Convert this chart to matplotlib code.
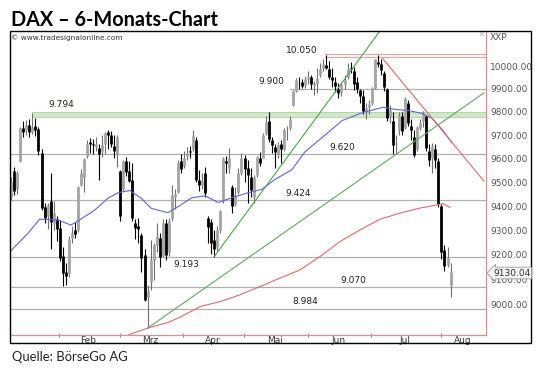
import numpy as np
import pandas as pd
import matplotlib
matplotlib.use('Agg')
import matplotlib.pyplot as plt
from matplotlib.patches import Rectangle
from matplotlib.ticker import FixedLocator, NullFormatter, NullLocator

# DAX daily bars (open, high, low, close)
jan = [(9440, 9520, 9425, 9500), (9545, 9565, 9445, 9465), (9470, 9545, 9450, 9540),
       (9590, 9735, 9585, 9730), (9730, 9760, 9690, 9715), (9720, 9765, 9700, 9745),
       (9745, 9770, 9690, 9712), (9715, 9794, 9705, 9735), (9740, 9772, 9695, 9722),
       (9725, 9735, 9615, 9631), (9625, 9640, 9385, 9392), (9395, 9415, 9330, 9349),
       (9360, 9415, 9305, 9406), (9420, 9540, 9225, 9336), (9330, 9420, 9300, 9373),
       (9345, 9360, 9255, 9306)]
feb = [(9310, 9343, 9175, 9186), (9195, 9230, 9075, 9128), (9130, 9165, 9080, 9116),
       (9125, 9275, 9110, 9265), (9270, 9320, 9250, 9290), (9300, 9336, 9270, 9285),
       (9300, 9484, 9295, 9478), (9490, 9556, 9485, 9540), (9520, 9600, 9460, 9596),
       (9610, 9680, 9600, 9663), (9670, 9688, 9625, 9660), (9660, 9685, 9620, 9656),
       (9650, 9690, 9630, 9660), (9645, 9660, 9510, 9618), (9630, 9700, 9605, 9657),
       (9660, 9715, 9620, 9708), (9712, 9722, 9640, 9699), (9700, 9718, 9650, 9661),
       (9655, 9700, 9600, 9631), (9620, 9700, 9565, 9692)]
mar = [(9545, 9552, 9340, 9358), (9470, 9595, 9465, 9589), (9590, 9605, 9525, 9542),
       (9545, 9590, 9500, 9507), (9510, 9580, 9340, 9350), (9330, 9345, 9265, 9311),
       (9320, 9350, 9250, 9307), (9280, 9290, 9130, 9188), (9200, 9225, 9015, 9017),
       (9030, 9080, 8907, 9056), (9090, 9260, 9060, 9180), (9180, 9250, 9100, 9242),
       (9240, 9330, 9210, 9277), (9270, 9290, 9150, 9190), (9200, 9345, 9190, 9330),
       (9330, 9345, 9180, 9200), (9210, 9350, 9195, 9338), (9350, 9490, 9340, 9448),
       (9440, 9470, 9390, 9451), (9460, 9595, 9455, 9587), (9590, 9620, 9540, 9556)]
apr = [(9570, 9630, 9560, 9603), (9610, 9650, 9595, 9623), (9630, 9655, 9600, 9628),
       (9640, 9722, 9630, 9695), (9680, 9690, 9500, 9510), (9510, 9552, 9465, 9490),
       (9490, 9540, 9470, 9507), (9540, 9566, 9440, 9455), (9350, 9360, 9250, 9315),
       (9335, 9345, 9205, 9250), (9260, 9300, 9193, 9225), (9230, 9320, 9215, 9300),
       (9300, 9384, 9290, 9380), (9420, 9607, 9415, 9600), (9590, 9610, 9540, 9580),
       (9560, 9643, 9540, 9600), (9480, 9490, 9371, 9401), (9410, 9480, 9400, 9446),
       (9460, 9560, 9450, 9540), (9540, 9624, 9530, 9603)]
mai = [(9600, 9615, 9500, 9556), (9560, 9594, 9413, 9529), (9520, 9560, 9440, 9467),
       (9440, 9530, 9413, 9521), (9530, 9610, 9520, 9607), (9600, 9629, 9570, 9581),
       (9600, 9708, 9600, 9702), (9710, 9782, 9700, 9755), (9760, 9800, 9670, 9681),
       (9680, 9690, 9625, 9656), (9650, 9660, 9560, 9629), (9620, 9670, 9600, 9659),
       (9660, 9680, 9580, 9639), (9640, 9730, 9630, 9720), (9720, 9740, 9680, 9721),
       (9730, 9780, 9722, 9768), (9830, 9894, 9824, 9892), (9890, 9948, 9885, 9940),
       (9940, 9950, 9900, 9939), (9930, 9945, 9905, 9913), (9915, 9955, 9905, 9943)]
jun = [(9945, 9980, 9920, 9950), (9950, 9960, 9900, 9920), (9915, 9935, 9874, 9926),
       (9920, 9990, 9880, 9947), (9960, 10013, 9950, 9987), (9990, 10030, 9980, 10008),
       (10005, 10050, 9985, 9990), (9985, 10023, 9943, 9950), (9950, 9990, 9910, 9938),
       (9930, 9950, 9885, 9913), (9900, 9925, 9860, 9883), (9885, 9930, 9870, 9920),
       (9920, 9960, 9900, 9937), (9950, 10013, 9945, 9987), (9990, 10020, 9970, 9987),
       (9980, 9996, 9894, 9920), (9930, 9950, 9880, 9900), (9895, 9897, 9838, 9867),
       (9870, 9894, 9790, 9805), (9800, 9840, 9770, 9815), (9820, 9850, 9790, 9833)]
jul = [(9840, 9910, 9830, 9902), (9905, 10030, 9900, 10029), (10020, 10050, 9995, 10009),
       (10010, 10032, 9960, 9982), (9970, 9980, 9890, 9906), (9900, 9905, 9760, 9772),
       (9780, 9830, 9750, 9808), (9760, 9800, 9620, 9659), (9660, 9700, 9620, 9666),
       (9720, 9800, 9700, 9783), (9780, 9800, 9700, 9719), (9730, 9864, 9725, 9859),
       (9840, 9850, 9740, 9753), (9740, 9770, 9680, 9720), (9690, 9722, 9607, 9613),
       (9640, 9740, 9630, 9734), (9730, 9770, 9720, 9753), (9760, 9803, 9735, 9794),
       (9780, 9782, 9630, 9644), (9630, 9660, 9570, 9593), (9600, 9666, 9540, 9653),
       (9640, 9660, 9560, 9593), (9590, 9600, 9395, 9407)]
aug = [(9400, 9410, 9185, 9210), (9220, 9240, 9135, 9154), (9160, 9230, 9150, 9189),
       (9080, 9165, 9032, 9130.04)]

month_names = ['Feb', 'Mrz', 'Apr', 'Mai', 'Jun', 'Jul', 'Aug']

# moving averages (bar index, value)
ma_blue_x = [-0.4, 5.5, 9.4, 15.4, 19.7, 22.6, 27.6, 31.9, 35.3, 39.1, 42.9, 46.2, 51.7,
             55.1, 59.6, 64.0, 68.3, 72.8, 78.3, 82.7, 87.1, 92.6, 97.0, 103.6, 109.2,
             115.8, 122.9, 125.7, 131.2, 135.6, 138.9, 142.2, 145.5]
ma_blue_y = [9213, 9288, 9346, 9343, 9322, 9343, 9384, 9433, 9456, 9465, 9433, 9391, 9373,
             9398, 9435, 9443, 9415, 9435, 9456, 9470, 9512, 9552, 9629, 9700, 9762,
             9796, 9820, 9812, 9805, 9793, 9772, 9724, 9667]
ma_red_x = [37.0, 39.5, 45.8, 51.7, 55.7, 62.3, 68.9, 75.5, 82.1, 88.7, 95.3, 101.9,
            108.5, 115.1, 121.7, 128.3, 134.9, 140.5, 142.5, 144.8]
ma_red_y = [8868, 8884, 8910, 8929, 8950, 8992, 9012, 9039, 9072, 9106, 9139, 9193,
            9254, 9302, 9346, 9371, 9392, 9405, 9410, 9395]

# trend lines: (start index, start value, end index, end value)
trend_steep = (67, 9193, 125, 10217)
trend_flat = (45, 8907, 156, 9882)
trend_down = (122.5, 10035, 156, 9505)

levels = [9900, 9620, 9424, 9193, 9070, 8984]
level_text = ['9.900', '9.620', '9.424', '9.193', '9.070', '8.984']
level_text_pos = [(86, 9931), (109.4, 9648), (94.8, 9451), (57.9, 9159), (113, 9096), (97, 9012)]
band_794 = (9779, 9800)
line_10050 = (10041, 10053)

right_ticks = list(range(9000, 10001, 100))

bars = np.array(jan + feb + mar + apr + mai + jun + jul + aug, dtype=float)
o, h, l, c = bars.T
x = np.arange(len(bars))
up = c >= o

month_len = [len(m) for m in (jan, feb, mar, apr, mai, jun, jul, aug)]
starts = np.cumsum(month_len)[:-1]

W, H = 540, 374
fig = plt.figure(figsize=(W / 100, H / 100), dpi=100)
fig.patch.set_facecolor('white')

def fx(px):
    return px / W

def fy(py):
    return 1 - py / H

ax = fig.add_axes([fx(10), fy(334.5), fx(486) - fx(10), fy(31) - fy(334.5)])
ax.set_yscale('log')
xmin, xmax = -0.4, 156.7
ax.set_xlim(xmin, xmax)
ax.set_ylim(8882, 10156)

grey_line = '#b0b0b0'
for v in levels:
    x0 = 92 if v == 9900 else xmin
    ax.plot([x0, xmax], [v, v], color=grey_line, lw=0.9, zorder=1)

ax.fill_between([7, xmax], band_794[0], band_794[1], color='#cfe8c8', zorder=1, lw=0)
ax.plot([7, xmax], [band_794[0]] * 2, color='#a9d59e', lw=0.6, zorder=1)
ax.plot([7, xmax], [band_794[1]] * 2, color='#a9d59e', lw=0.6, zorder=1)
for v in line_10050:
    ax.plot([103.6, xmax], [v, v], color='#e9a3a3', lw=0.8, zorder=1)

# candles
ax.vlines(x[up], l[up], h[up], color='#6e6e6e', lw=0.8, zorder=3)
ax.vlines(x[~up], l[~up], h[~up], color='#000000', lw=0.8, zorder=3)
ax.vlines(x[up], o[up], c[up], color='#a4a4a4', lw=2.0, zorder=3)
ax.vlines(x[~up], c[~up], o[~up], color='#000000', lw=2.0, zorder=3)

ax.plot(ma_blue_x, ma_blue_y, color='#6464dc', lw=0.8, zorder=4)
ax.plot(ma_red_x, ma_red_y, color='#e46a6a', lw=0.8, zorder=4)
for (x1, y1, x2, y2), col in [(trend_steep, '#4aa64a'), (trend_flat, '#5cae5c'),
                              (trend_down, '#e46a6a')]:
    ax.plot([x1, x2], [y1, y2], color=col, lw=0.8, zorder=4)

tfont = dict(fontsize=6.5, color='#222222', family='DejaVu Sans')
for txt, (tx, ty) in zip(level_text, level_text_pos):
    ax.text(tx, ty, txt, ha='center', va='center', **tfont)
ax.text(16.5, 9833, '9.794', ha='center', va='center', **tfont)
ax.text(95.9, 10068, '10.050', ha='center', va='center', **tfont)

# axes styling
for s in ('left', 'top'):
    ax.spines[s].set_visible(False)
for s in ('right', 'bottom'):
    ax.spines[s].set_color('#e58a8a')
    ax.spines[s].set_linewidth(0.9)

ax.yaxis.tick_right()
ax.yaxis.set_major_locator(FixedLocator(right_ticks))
ax.yaxis.set_minor_locator(NullLocator())
ax.yaxis.set_minor_formatter(NullFormatter())
ax.set_yticklabels([f'{t:.2f}' for t in right_ticks])
ax.tick_params(axis='y', length=0, pad=3, labelsize=6.5, labelcolor='#555555')

ax.set_xticks(starts - 0.2)
ax.set_xticklabels([])
centers = []
for i, s in enumerate(starts):
    e = starts[i + 1] if i + 1 < len(starts) else len(bars) + 30
    centers.append((s - 0.5 + min(e - 0.5, xmax)) / 2)
ax.set_xticks(centers, minor=True)
ax.set_xticklabels(month_names, minor=True)
ax.tick_params(axis='x', which='major', length=2.5, width=0.6, color='#777777', direction='inout')
ax.tick_params(axis='x', which='minor', length=0, pad=0.8, labelsize=6.5, labelcolor='#333333')

# frame and header texts
fig.patches.append(Rectangle((fx(10), fy(343)), fx(531) - fx(10), fy(31) - fy(343),
                             transform=fig.transFigure, fill=False, ec='black', lw=1.0))
fig.text(fx(11), fy(26), 'DAX \u2013 6-Monats-Chart', fontsize=14.3, fontweight='bold',
         family='Lato', va='baseline', ha='left')
fig.text(fx(12), fy(360.7), 'Quelle: B\u00f6rseGo AG', fontsize=9.4, family='Lato',
         va='baseline', ha='left', color='#222222')
fig.text(fx(11), fy(37.5), '\u00a9 www.tradesignalonline.com', fontsize=5.3, va='center',
         ha='left', color='#333333')
fig.text(fx(490), fy(37.5), 'XXP', fontsize=6.5, va='center', ha='left', color='#555555')
fig.text(fx(481), fy(34.5), '\u00d7', fontsize=5, va='center', ha='center', color='#999999')
fig.text(fx(493), fy(273), f'{c[-1]:.2f}', fontsize=6.5, va='center', ha='left', color='#333333',
         bbox=dict(boxstyle='larrow,pad=0.15', fc='#f2f2f2', ec='#9a9a9a', lw=0.6))

fig.savefig('out.png', dpi=100)
